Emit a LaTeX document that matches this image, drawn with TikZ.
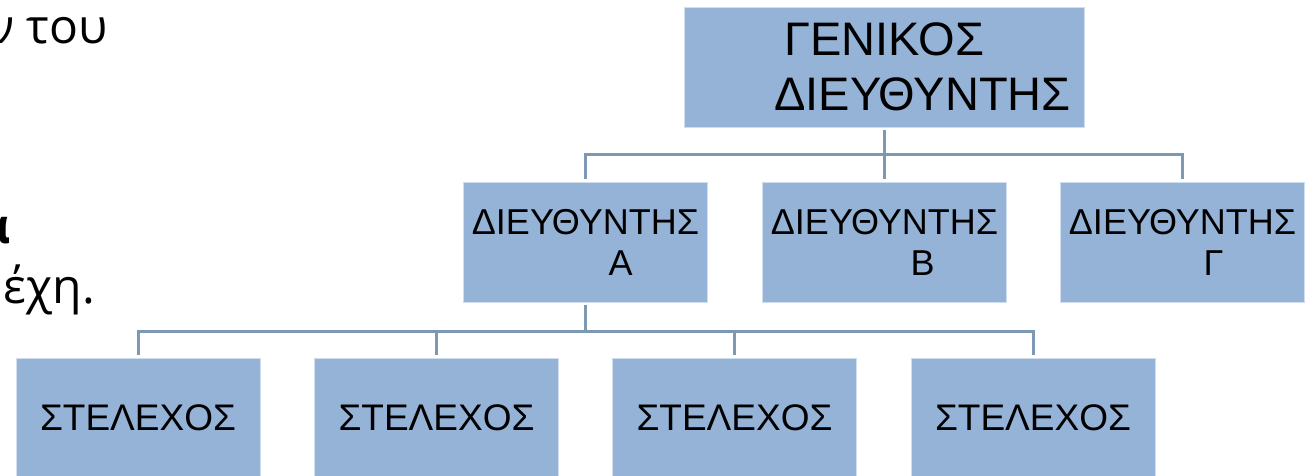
\documentclass[tikz,border=0pt]{standalone}
\usepackage{fontspec}
\setmainfont{Liberation Sans}
\newfontfamily\slidefont{Open Sans}
\definecolor{boxblue}{HTML}{95B3D7}
\definecolor{linkblue}{HTML}{7D98B3}

\begin{document}
\begin{tikzpicture}[x=1pt,y=-1pt]
\tikzstyle{every node}=[inner sep=0pt];
\tikzstyle{post}=[draw=white!55!boxblue, line width=1pt, fill=boxblue, align=center, outer sep=3pt, minimum width=244pt, minimum height=120pt];
\tikzstyle{link}=[draw=linkblue, line width=3pt];
\tikzstyle{slide}=[anchor=base east, font=\slidefont\fontsize{48}{58}\selectfont];
\useasboundingbox (0,0) rectangle (1316,475);
\clip (0,0) rectangle (1316,475);
\node[slide] (t1) at (108,43) {ν του};
\node[slide, font=\slidefont\bfseries\fontsize{48}{58}\selectfont] (t2) at (11,243) {α};
\node[slide] (t3) at (95,303) {έχη.};
\node[post, minimum width=400pt, font=\fontsize{47}{55}\selectfont] (gd) at (884.5,67) {ΓΕΝΙΚΟΣ\\\hspace*{76pt}ΔΙΕΥΘΥΝΤΗΣ};
\node[post, font=\fontsize{36}{41}\selectfont] (dA) at (585.5,242) {ΔΙΕΥΘΥΝΤΗΣ\\\hspace*{70pt}Α};
\node[post, font=\fontsize{36}{41}\selectfont] (dB) at (884.5,242) {ΔΙΕΥΘΥΝΤΗΣ\\\hspace*{76pt}Β};
\node[post, font=\fontsize{36}{41}\selectfont] (dC) at (1182.5,242) {ΔΙΕΥΘΥΝΤΗΣ\\\hspace*{62pt}Γ};
\node[post, font=\fontsize{37}{44}\selectfont] (s1) at (138,418) {ΣΤΕΛΕΧΟΣ};
\node[post, font=\fontsize{37}{44}\selectfont] (s2) at (436.5,418) {ΣΤΕΛΕΧΟΣ};
\node[post, font=\fontsize{37}{44}\selectfont] (s3) at (734.5,418) {ΣΤΕΛΕΧΟΣ};
\node[post, font=\fontsize{37}{44}\selectfont] (s4) at (1033,418) {ΣΤΕΛΕΧΟΣ};
\draw[link] (gd.south) -- ++(0,24) -| (dA.north)
(gd.south) -- (dB.north)
(gd.south) -- ++(0,24) -| (dC.north)
(dA.south) -- ++(0,26) -| (s1.north)
(dA.south) -- ++(0,26) -| (s2.north)
(dA.south) -- ++(0,26) -| (s3.north)
(dA.south) -- ++(0,26) -| (s4.north);
\end{tikzpicture}
\end{document}
